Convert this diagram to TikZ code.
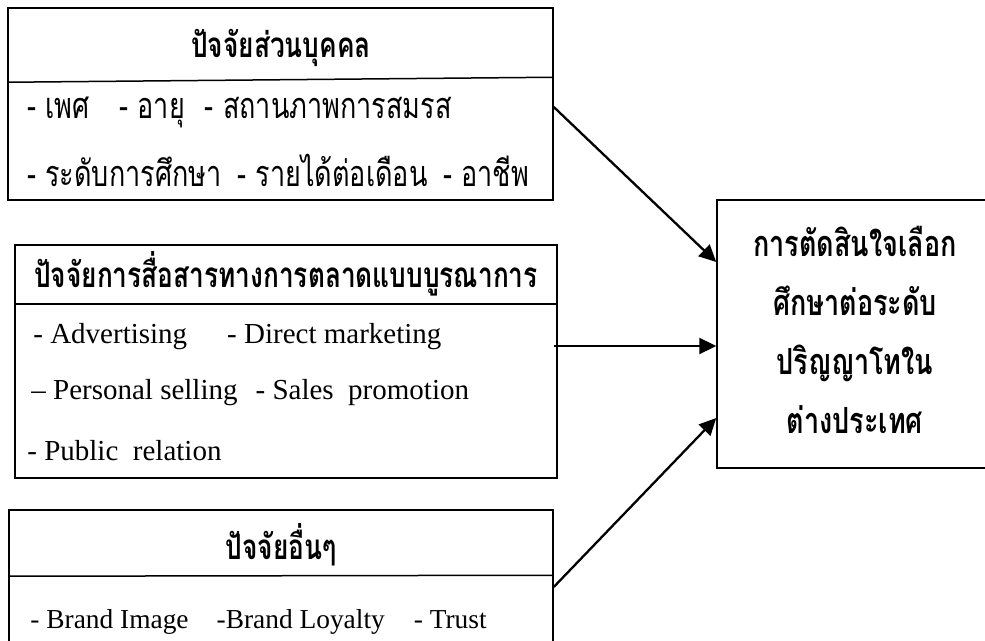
\documentclass[tikz,border=0pt]{standalone}
\usepackage{fontspec}
\setmainfont{Liberation Serif}
\newfontfamily\thaifont[Script=Thai,FakeStretch=0.75]{Loma}
\usetikzlibrary{positioning,calc,arrows.meta}
\tikzstyle{box} = [draw, rectangle, line width=0.75pt, inner sep=0pt]
\tikzstyle{head} = [font=\thaifont\bfseries\fontsize{17.5}{20}\selectfont]
\tikzstyle{item} = [anchor=west, inner sep=0pt, font=\fontsize{14.5}{17}\selectfont]
\tikzstyle{thaiitem} = [anchor=west, inner sep=0pt, font=\thaifont\fontsize{18}{20}\selectfont]
\tikzstyle{arrow} = [line width=1.15pt, -{Triangle[length=8.5pt,width=8pt]}]

\begin{document}
\begin{tikzpicture}[x=0.5pt,y=-0.5pt]
\useasboundingbox (0,0) rectangle (985,641);
\clip (0,0) rectangle (985,641);
% the three factor boxes and the decision box
\node[box, minimum width=272.5pt, minimum height=96pt] (personal) at (280.5,104) {};
\node[box, minimum width=271pt, minimum height=116.5pt] (imc) at (286,361.5) {};
\node[box, minimum width=272pt, minimum height=80pt] (other) at (281,590) {};
\node[box, minimum width=140pt, minimum height=134pt] (decide) at (857,334) {};
% header rules
\draw[line width=0.75pt] ($(personal.north west)+(0,75)$) -- ($(personal.north east)+(0,70)$);
\draw[line width=0.75pt] ($(imc.north west)+(0,60)$) -- ($(imc.north east)+(0,60)$);
\draw[line width=0.75pt] ($(other.north west)+(0,67)$) -- ($(other.north east)+(0,66)$);
% personal factors
\node[head] (personalhead) at (281,48) {ปัจจัยส่วนบุคคล};
\node[thaiitem] (personal1) at (27,112) {- เพศ\hspace{15pt}- อายุ\hspace{10pt}- สถานภาพการสมรส};
\node[thaiitem] (personal2) at (27,170) {- ระดับการศึกษา\hspace{8pt}- รายได้ต่อเดือน\hspace{8pt}- อาชีพ};
% integrated marketing communication
\node[head] (imchead) at (286,274) {ปัจจัยการสื่อสารทางการตลาดแบบบูรณาการ};
\node[item] (imc1) at (33,337) {- Advertising\hspace{20pt}- Direct marketing};
\node[item] (imc2) at (31,393) {\textendash\ Personal selling\hspace{9pt}- Sales\ \ promotion};
\node[item] (imc3) at (27,451) {- Public\ \ relation};
% other factors
\node[head] (otherhead) at (281,545) {ปัจจัยอื่นๆ};
\node[item, font=\fontsize{13.7}{16}\selectfont] (other1) at (30,622) {- Brand Image\hspace{14pt}-Brand Loyalty\hspace{14.5pt}- Trust};
% decision
\node[font=\thaifont\bfseries\fontsize{18}{29.5}\selectfont, align=center] (decidetext) at (855,330)
  {การตัดสินใจเลือก\\ศึกษาต่อระดับ\\ปริญญาโทใน\\ต่างประเทศ};
% links
\draw[arrow] ($(personal.east)+(0,3)$) -- ($(decide.west)+(0,-72)$);
\draw[arrow] ($(imc.east)+(-4,-15.5)$) -- ($(decide.west)+(0,12)$);
\draw[arrow] ($(other.east)+(0,-3)$) -- ($(decide.west)+(0,84)$);
\end{tikzpicture}
\end{document}
